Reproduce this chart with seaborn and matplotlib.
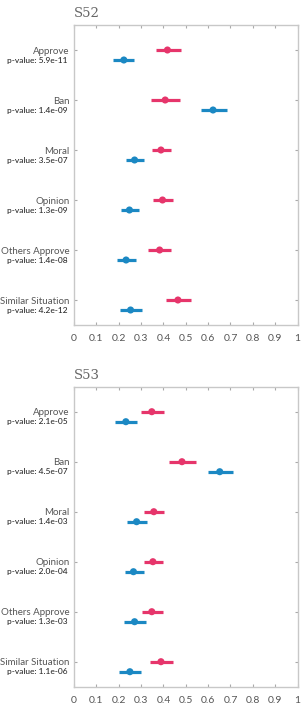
import matplotlib
matplotlib.use("Agg")
import matplotlib.pyplot as plt
import matplotlib.transforms as mtransforms
import seaborn as sns
import pandas as pd
import numpy as np

categories = ["Approve", "Ban", "Moral", "Opinion", "Others Approve", "Similar Situation"]

# S52
s52_red_mid = [0.418, 0.408, 0.389, 0.396, 0.383, 0.465]
s52_red_lo = [0.366, 0.345, 0.351, 0.354, 0.333, 0.413]
s52_red_hi = [0.477, 0.475, 0.432, 0.441, 0.434, 0.523]
s52_blue_mid = [0.223, 0.622, 0.271, 0.248, 0.233, 0.253]
s52_blue_lo = [0.176, 0.568, 0.232, 0.209, 0.194, 0.206]
s52_blue_hi = [0.269, 0.683, 0.314, 0.290, 0.278, 0.303]
s52_pvals = ["5.9e-11", "1.4e-09", "3.5e-07", "1.3e-09", "1.4e-08", "4.2e-12"]

# S53
s53_red_mid = [0.348, 0.483, 0.357, 0.353, 0.348, 0.389]
s53_red_lo = [0.300, 0.425, 0.314, 0.312, 0.306, 0.338]
s53_red_hi = [0.404, 0.548, 0.404, 0.400, 0.396, 0.445]
s53_blue_mid = [0.232, 0.652, 0.280, 0.266, 0.271, 0.250]
s53_blue_lo = [0.185, 0.598, 0.236, 0.226, 0.224, 0.202]
s53_blue_hi = [0.283, 0.711, 0.327, 0.312, 0.321, 0.300]
s53_pvals = ["2.1e-05", "4.5e-07", "1.4e-03", "2.0e-04", "1.3e-03", "1.1e-06"]

x_ticks = [0, 0.1, 0.2, 0.3, 0.4, 0.5, 0.6, 0.7, 0.8, 0.9, 1]
x_tick_labels = ["0", "0.1", "0.2", "0.3", "0.4", "0.5", "0.6", "0.7", "0.8", "0.9", "1"]

RED = "#e6356b"
BLUE = "#1b88c3"
FRAME = "#c8c8c8"
LABEL = "#555555"
PCOL = "#2b2b2b"

sns.set_theme(style="white")
plt.rcParams['font.family'] = ['Lato', 'DejaVu Sans']

fig = plt.figure(figsize=(3.03, 7.17), dpi=100)
ax1 = fig.add_axes([74 / 303, 1 - 325 / 717, 223.5 / 303, 300 / 717])
ax2 = fig.add_axes([74 / 303, 1 - 686.7 / 717, 223.5 / 303, 300 / 717])


def draw(ax, title, red_mid, red_lo, red_hi, blue_mid, blue_lo, blue_hi, pvals):
    n = len(categories)
    pos = np.arange(n)
    df = pd.DataFrame({
        "cat": categories * 2,
        "group": ["A"] * n + ["B"] * n,
        "mid": list(red_mid) + list(blue_mid),
        "lo": list(red_lo) + list(blue_lo),
        "hi": list(red_hi) + list(blue_hi),
        "y": list(pos) + list(pos + 0.2),
    })
    pal = {"A": RED, "B": BLUE}
    for g, sub in df.groupby("group"):
        ax.hlines(sub["y"], sub["lo"], sub["hi"], color=pal[g], lw=2.3, zorder=2)
    sns.scatterplot(data=df, x="mid", y="y", hue="group", palette=pal, s=26,
                    edgecolor="none", legend=False, ax=ax, zorder=3)
    ax.set_xlim(0, 1)
    ax.set_ylim(n - 0.5, -0.5)
    ax.set_xticks(x_ticks)
    ax.set_xticklabels(x_tick_labels)
    ax.set_yticks(pos)
    ax.set_yticklabels(categories)
    ax.set_xlabel("")
    ax.set_ylabel("")
    ax.tick_params(axis="both", direction="in", length=2.5, width=0.8, color="#aaaaaa",
                   top=True, right=True, bottom=True, left=True,
                   labelsize=7.0, labelcolor=LABEL, pad=3)
    ax.tick_params(axis="x", pad=6.5, labelsize=7.5)
    for s in ax.spines.values():
        s.set_color(FRAME)
        s.set_linewidth(1.0)
        s.set_visible(True)
    trans = mtransforms.blended_transform_factory(ax.transAxes, ax.transData)
    for i, p in enumerate(pvals):
        ax.text(-0.03, i + 0.2, "p-value: " + p, transform=trans, ha="right", va="center",
                fontsize=6.0, color=PCOL, fontweight="medium")
    ax.text(0.0, 1.027, title, transform=ax.transAxes, ha="left", va="baseline",
            fontsize=9.5, color="#666666", family=["DejaVu Serif"])


draw(ax1, "S52", s52_red_mid, s52_red_lo, s52_red_hi, s52_blue_mid, s52_blue_lo, s52_blue_hi, s52_pvals)
draw(ax2, "S53", s53_red_mid, s53_red_lo, s53_red_hi, s53_blue_mid, s53_blue_lo, s53_blue_hi, s53_pvals)

fig.savefig("out.png", dpi=100, facecolor="white")
